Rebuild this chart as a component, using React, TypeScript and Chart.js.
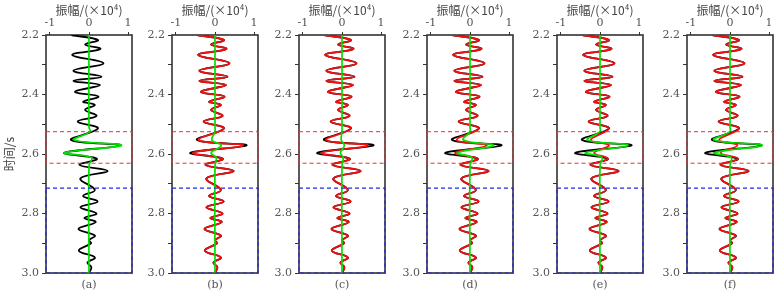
import React, { useEffect, useRef } from "react";
import { Chart, registerables } from "chart.js";
Chart.register(...registerables);

// ---- data (time in s, amplitude in 10^4) ----
const TIME = [
  2.200, 2.217, 2.232, 2.247, 2.267, 2.295, 2.320, 2.340, 2.354, 2.368,
  2.391, 2.407, 2.424, 2.435, 2.452, 2.472, 2.491, 2.514, 2.553, 2.571,
  2.596, 2.616, 2.637, 2.657, 2.682, 2.721, 2.741, 2.760, 2.779, 2.800,
  2.815, 2.829, 2.852, 2.874, 2.890, 2.900, 2.925, 2.948, 2.965, 2.980, 3.000,
];
const OBSERVED = [
  -0.45, 0.23, -0.10, 0.29, -0.43, 0.37, -0.40, 0.32, -0.40, 0.28,
  -0.36, 0.24, -0.15, 0.15, -0.10, 0.19, -0.29, 0.23, -0.46, 0.81,
  -0.63, 0.20, -0.24, 0.48, -0.22, 0.15, -0.15, 0.22, -0.22, 0.19,
  -0.12, 0.17, -0.27, 0.15, 0.00, 0.05, -0.26, 0.15, -0.04, 0.06, 0.00,
];
const EVENT_B = [-0.42, 0.72, -0.56];
const EVENT_C = [-0.40, 0.66, -0.52];
const EVENT_D = [-0.34, 0.43, -0.38];
const EVENT_E = [-0.24, 0.23, -0.15];
const EVENT_F = [-0.28, 0.19, -0.24];
const withEvent = (ev: number[]) => [...OBSERVED.slice(0, 18), ...ev, ...OBSERVED.slice(21)];
const RED_B = withEvent(EVENT_B);
const RED_C = withEvent(EVENT_C);
const RED_D = withEvent(EVENT_D);
const RED_E = withEvent(EVENT_E);
const RED_F = withEvent(EVENT_F);

const GREEN_TIME = [2.2, 2.51, 2.525, 2.553, 2.571, 2.596, 2.612, 2.64, 3.0];
const GREEN_A = [0, 0, 0.03, -0.38, 0.83, -0.62, 0.06, 0, 0];
const GREEN_B = [0, 0, 0, -0.08, 0.16, -0.10, 0.03, 0, 0];
const GREEN_C = [0, 0, 0, -0.02, 0.06, -0.04, 0.03, 0, 0];
const GREEN_D = [0, 0, 0, -0.17, 0.60, -0.32, 0.05, 0, 0];
const GREEN_E = [0, 0, 0, -0.32, 0.72, -0.37, 0.05, 0, 0];
const GREEN_F = [0, 0, 0, -0.41, 0.83, -0.41, 0.03, 0, 0];

const RED_BOX = [2.525, 2.631];
const BLUE_BOX = [2.715, 3.0];
const X_TICKS = [-1, 0, 1];
const X_RANGE = [-1.1, 1.1];
const Y_RANGE = [2.2, 3.0];
const PANEL_LABELS = ["(a)", "(b)", "(c)", "(d)", "(e)", "(f)"];
const REDS: (number[] | null)[] = [null, RED_B, RED_C, RED_D, RED_E, RED_F];
const GREENS = [GREEN_A, GREEN_B, GREEN_C, GREEN_D, GREEN_E, GREEN_F];

// ---- layout ----
const CENTERS = [89, 215, 342, 470, 600, 730];
const AXIS_W = 46;
const HALF = 43;
const PAD_R = 6;
const CANVAS_W = AXIS_W + 2 * HALF + PAD_R;
const CANVAS_H = 296;

const SERIF = "'DejaVu Serif', 'Liberation Serif', serif";
const CJK = "'Noto Sans CJK SC', 'Noto Sans', sans-serif";

const frame = {
  id: "frame",
  beforeDatasetsDraw(chart: any) {
    const { ctx, chartArea: a } = chart;
    ctx.save();
    ctx.strokeStyle = "#333";
    ctx.lineWidth = 1.6;
    ctx.strokeRect(a.left, a.top, a.right - a.left, a.bottom - a.top);
    ctx.restore();
  },
};

function Panel({ idx }: { idx: number }) {
  const ref = useRef<HTMLCanvasElement>(null);
  useEffect(() => {
    if (!ref.current) return;
    const pts = (ts: number[], vs: number[]) => ts.map((t, i) => ({ x: vs[i], y: t }));
    const box = (b: number[]) => [
      { x: X_RANGE[0], y: b[0] },
      { x: X_RANGE[1], y: b[0] },
      { x: X_RANGE[1], y: b[1] },
      { x: X_RANGE[0], y: b[1] },
      { x: X_RANGE[0], y: b[0] },
    ];
    const datasets: any[] = [
      { data: box(RED_BOX), borderColor: "#e83030", borderWidth: 1, borderDash: [4, 3], tension: 0, clip: false },
      { data: box(BLUE_BOX), borderColor: "#2626e0", borderWidth: 1.2, borderDash: [4, 3], tension: 0, clip: false },
      { data: pts(GREEN_TIME, GREENS[idx]), borderColor: "#00e000", borderWidth: 1.7, tension: 0.4 },
    ];
    const red = REDS[idx];
    if (red) datasets.push({ data: pts(TIME, red), borderColor: "#f01010", borderWidth: 1.8, tension: 0.4 });
    datasets.push({ data: pts(TIME, OBSERVED), borderColor: "#000", borderWidth: 1.8, tension: 0.4 });

    const tickFont = { family: SERIF, size: 11 };
    const chart = new Chart(ref.current, {
      type: "scatter",
      data: { datasets },
      plugins: [frame],
      options: {
        responsive: false,
        animation: false,
        devicePixelRatio: 1,
        showLine: true,
        elements: { point: { radius: 0 } },
        layout: { padding: { left: 0, right: PAD_R, top: 0, bottom: 0 } },
        plugins: { legend: { display: false }, tooltip: { enabled: false }, title: { display: false } },
        scales: {
          x: {
            type: "linear",
            position: "top",
            min: X_RANGE[0],
            max: X_RANGE[1],
            afterBuildTicks: (s: any) => { s.ticks = X_TICKS.map((v) => ({ value: v })); },
            afterFit: (s: any) => { s.height = 35; },
            ticks: { font: tickFont, color: "#555", padding: 2, maxRotation: 0, autoSkip: false, callback: (v: any) => String(v) },
            grid: { drawOnChartArea: false, tickLength: 3, color: "#333" },
            border: { display: false },
            title: { display: true, text: "振幅/(×10⁴)", font: { family: CJK, size: 12 }, color: "#444", padding: { top: 3, bottom: 0 } },
          },
          x2: {
            type: "linear",
            position: "bottom",
            min: X_RANGE[0],
            max: X_RANGE[1],
            afterFit: (s: any) => { s.height = CANVAS_H - 273; },
            ticks: { display: false },
            grid: { display: false },
            border: { display: false },
            title: { display: true, text: PANEL_LABELS[idx], font: { family: SERIF, size: 11 }, color: "#555", padding: { top: 0, bottom: 4 } },
          },
          y: {
            type: "linear",
            position: "left",
            reverse: true,
            min: Y_RANGE[0],
            max: Y_RANGE[1],
            afterFit: (s: any) => { s.width = AXIS_W; },
            ticks: {
              stepSize: 0.1,
              autoSkip: false,
              font: tickFont,
              color: "#555",
              padding: 3,
              callback: (v: any) => (Math.round(Number(v) * 10) % 2 === 0 ? Number(v).toFixed(1) : ""),
            },
            grid: { drawOnChartArea: false, tickLength: 4, color: "#333" },
            border: { display: false },
            title: { display: idx === 0, text: "时间/s", font: { family: CJK, size: 12 }, color: "#444", padding: { top: 2, bottom: 2 } },
          },
        },
      } as any,
    });
    return () => chart.destroy();
  }, [idx]);
  return (
    <canvas
      ref={ref}
      width={CANVAS_W}
      height={CANVAS_H}
      style={{ position: "absolute", left: CENTERS[idx] - HALF - AXIS_W, top: 0, width: CANVAS_W, height: CANVAS_H }}
    />
  );
}

export default function App() {
  return (
    <div style={{ position: "fixed", left: 0, top: 0, width: 784, height: 296, background: "#fff", overflow: "hidden" }}>
      {PANEL_LABELS.map((_, i) => (
        <Panel key={i} idx={i} />
      ))}
    </div>
  );
}
